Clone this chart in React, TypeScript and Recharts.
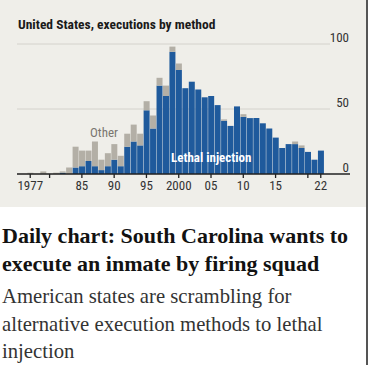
import { BarChart, Bar, XAxis, YAxis, CartesianGrid } from 'recharts'

const YEARS = [
  1977, 1978, 1979, 1980, 1981, 1982, 1983, 1984, 1985, 1986, 1987, 1988, 1989, 1990, 1991, 1992,
  1993, 1994, 1995, 1996, 1997, 1998, 1999, 2000, 2001, 2002, 2003, 2004, 2005, 2006, 2007, 2008,
  2009, 2010, 2011, 2012, 2013, 2014, 2015, 2016, 2017, 2018, 2019, 2020, 2021, 2022,
]
const LETHAL = [
  0, 0, 0, 0, 0, 1, 0, 5, 6, 10, 6, 3, 6, 11, 6, 21,
  25, 22, 49, 35, 68, 60, 94, 80, 66, 71, 65, 59, 60, 53, 41, 37,
  52, 44, 43, 43, 39, 35, 28, 20, 23, 23, 20, 17, 11, 18,
]
const OTHER = [
  1, 0, 2, 0, 1, 1, 5, 16, 12, 8, 19, 8, 10, 12, 8, 10,
  13, 9, 7, 10, 6, 8, 4, 5, 0, 0, 0, 0, 0, 0, 1, 0,
  0, 2, 0, 0, 0, 0, 0, 0, 0, 2, 2, 0, 0, 0,
]
const TICK_YEARS = [1977, 1980, 1985, 1990, 1995, 2000, 2005, 2010, 2015, 2020, 2022]
const TICK_LABELS: Record<number, string> = {
  1977: '1977', 1985: '85', 1990: '90', 1995: '95', 2000: '2000',
  2005: '05', 2010: '10', 2015: '15', 2022: '22',
}
const Y_TICKS = [0, 50, 100]

const data = YEARS.map((year, i) => ({ year, lethal: LETHAL[i], other: OTHER[i] }))

const BG = '#efeee9'
const SANS = "'Liberation Sans Narrow', 'Roboto Condensed', Roboto, sans-serif"
const SERIF = "'Liberation Serif', serif"

function XTick({ x, y, payload }: any) {
  const label = TICK_LABELS[payload.value]
  if (!label) return null
  return (
    <text x={x} y={y} dy="0.71em" textAnchor="middle" fontSize={13} fill="#333" fontFamily={SANS}>
      {label}
    </text>
  )
}

function YTick({ y, payload }: any) {
  return (
    <text x={349} y={y - 2} textAnchor="end" fontSize={13} fill="#333" fontFamily={SANS}>
      {payload.value}
    </text>
  )
}

// gridlines stop short of the value labels
function GridLine(props: any) {
  const { x1, y1, y2 } = props
  return <line x1={x1} x2={330} y1={y1} y2={y2} stroke="#d4d2cc" strokeWidth={1} />
}

export default function App() {
  return (
    <div
      style={{
        position: 'absolute', left: 0, top: 0, width: 366, height: 365,
        borderRight: '2px solid #555', background: '#fff',
      }}
    >
      <div style={{ position: 'relative', width: 366, height: 207, background: BG }}>
        <div
          style={{
            position: 'absolute', left: 18, top: 16, fontFamily: SANS, fontWeight: 700,
            fontSize: 13.5, color: '#1a1a1a', whiteSpace: 'nowrap',
          }}
        >
          United States, executions by method
        </div>
        <BarChart
          width={366}
          height={207}
          data={data}
          margin={{ top: 44, right: 0, left: 17, bottom: 13 }}
          barCategoryGap="6%"
        >
          <CartesianGrid vertical={false} horizontal={(p: any) => <GridLine key={p.key} {...p} />} />
          <XAxis
            dataKey="year"
            ticks={TICK_YEARS}
            interval={0}
            padding={{ left: 10, right: 26 }}
            height={20}
            axisLine={{ stroke: '#222', strokeWidth: 1.5 }}
            tickLine={{ stroke: '#222', strokeWidth: 1.3 }}
            tickSize={4}
            tickMargin={3}
            tick={<XTick />}
          />
          <YAxis
            orientation="right"
            domain={[0, 100]}
            ticks={Y_TICKS}
            width={16}
            axisLine={false}
            tickLine={false}
            tick={<YTick />}
          />
          <Bar dataKey="lethal" stackId="a" fill="#1f5a9c" isAnimationActive={false} />
          <Bar dataKey="other" stackId="a" fill="#b3afa6" isAnimationActive={false} />
        </BarChart>
        <div
          style={{
            position: 'absolute', left: 90, top: 125, fontFamily: SANS, fontSize: 13,
            color: '#7a7670', whiteSpace: 'nowrap',
          }}
        >
          Other
        </div>
        <div
          style={{
            position: 'absolute', left: 171, top: 150, fontFamily: SANS, fontSize: 13,
            fontWeight: 700, color: '#fff', whiteSpace: 'nowrap',
          }}
        >
          Lethal injection
        </div>
      </div>
      <div
        style={{
          position: 'absolute', left: 2, top: 222, fontFamily: SERIF, fontSize: 22,
          fontWeight: 700, lineHeight: '27.5px', color: '#121212', width: 364,
        }}
      >
        Daily chart: South Carolina wants to execute an inmate by firing squad
      </div>
      <div
        style={{
          position: 'absolute', left: 2, top: 283, fontFamily: SERIF, fontSize: 20.7,
          lineHeight: '27.5px', color: '#333', width: 364,
        }}
      >
        American states are scrambling for alternative execution methods to lethal injection
      </div>
    </div>
  )
}
